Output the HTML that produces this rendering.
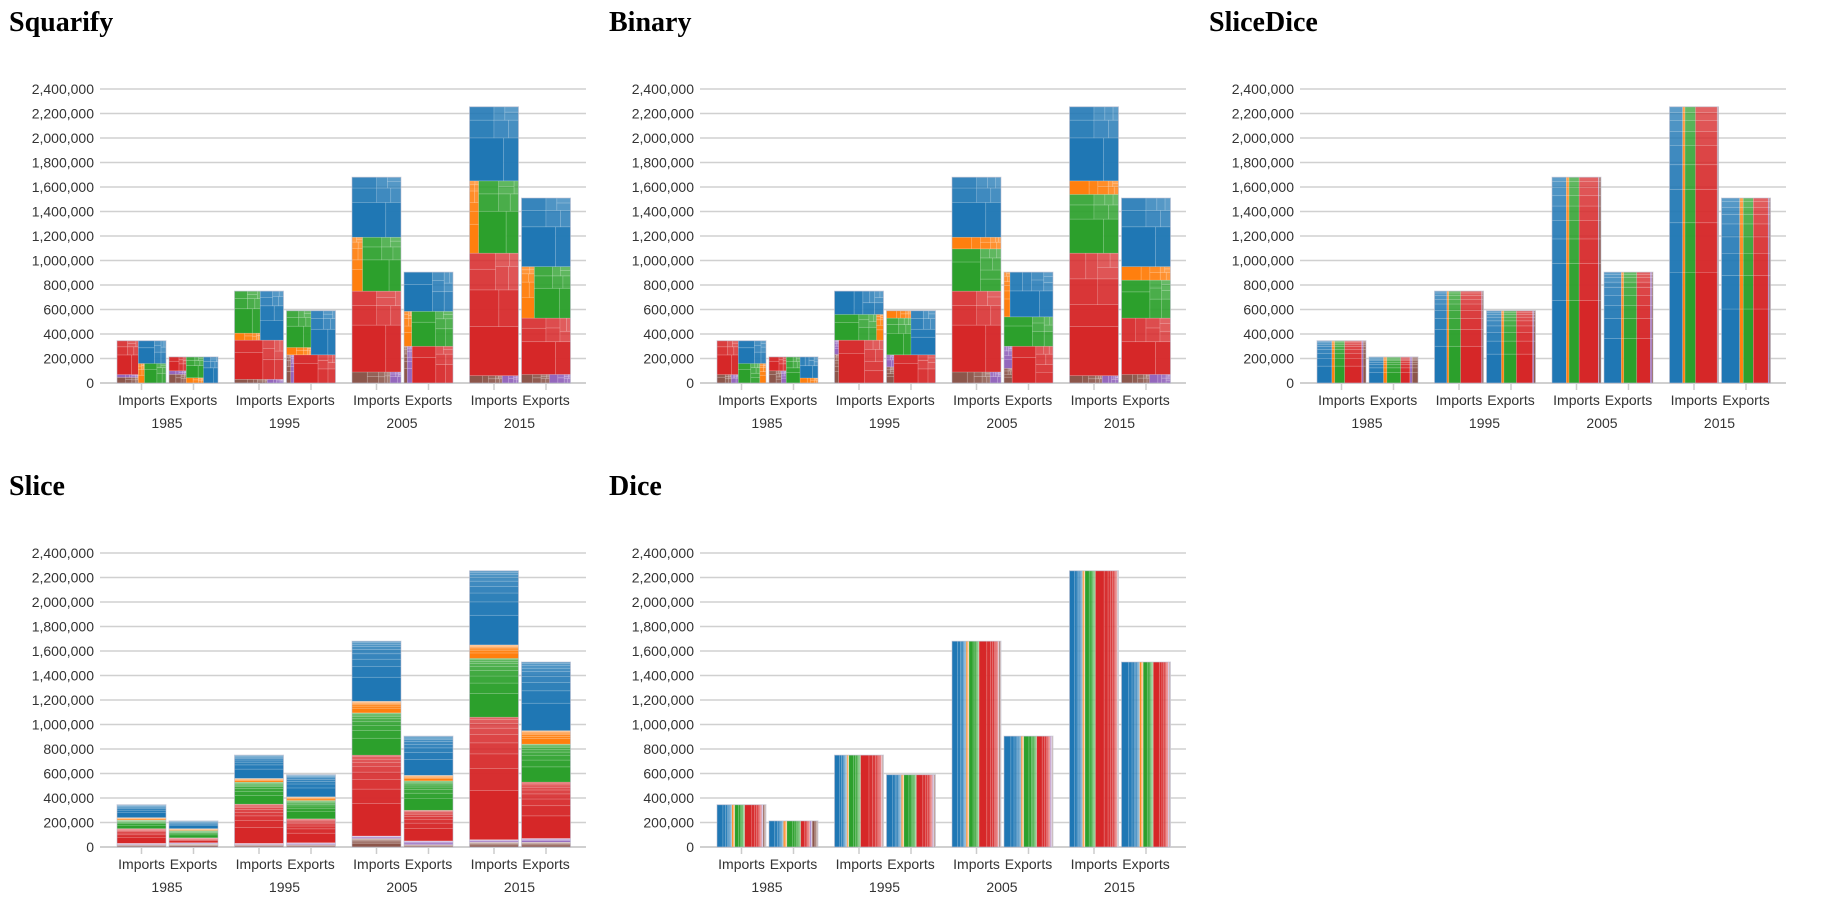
<!DOCTYPE html>
<html><head><meta charset="utf-8">
<style>
html,body{margin:0;padding:0;background:#fff;width:1824px;height:904px;overflow:hidden}
svg text{font-family:"Liberation Sans",sans-serif}
</style></head>
<body>
<svg id="root" width="1824" height="904" xmlns="http://www.w3.org/2000/svg"></svg>
<script>
const years = ["1985","1995","2005","2015"];
const flows = ["Imports","Exports"];
const categoryNames = ["brown","purple","red","green","orange","blue"];
const categoryColors = ["#8c564b","#9467bd","#d62728","#2ca02c","#ff7f0e","#1f77b4"];
// values in thousands, per group: [brown, purple, red, green, orange, blue]
const imports1985 = [20,10,120,70,20,105];
const exports1985 = [25,10,40,60,15,63];
const imports1995 = [20,10,320,180,30,190];
const exports1995 = [20,15,195,150,30,180];
const imports2005 = [70,20,660,345,95,490];
const exports2005 = [20,30,250,240,45,320];
const imports2015 = [40,20,1000,480,110,605];
const exports2015 = [40,30,460,310,110,560];
const groupValues = [[imports1985,exports1985],[imports1995,exports1995],[imports2005,exports2005],[imports2015,exports2015]];
const subShares = [0.4,0.18,0.12,0.09,0.07,0.05,0.04,0.03,0.02];
const yTicks = [0,200000,400000,600000,800000,1000000,1200000,1400000,1600000,1800000,2000000,2200000,2400000];
const panels = [["Squarify","squarify"],["Binary","binary"],["SliceDice","slicedice"],["Slice","slice"],["Dice","dice"]];

const NS="http://www.w3.org/2000/svg";
const root=document.getElementById('root');
function mk(tag,attrs,parent){const e=document.createElementNS(NS,tag);for(const k in attrs)e.setAttribute(k,attrs[k]);(parent||root).appendChild(e);return e;}

function sliceL(nodes,x0,y0,x1,y1){const t=nodes.reduce((a,n)=>a+n.value,0);let y=y0;nodes.forEach(n=>{const h=t?(y1-y0)*n.value/t:0;n.r=[x0,y,x1,y+h];y+=h;});}
function diceL(nodes,x0,y0,x1,y1){const t=nodes.reduce((a,n)=>a+n.value,0);let x=x0;nodes.forEach(n=>{const w=t?(x1-x0)*n.value/t:0;n.r=[x,y0,x+w,y1];x+=w;});}
function squarifyL(nodes,x0,y0,x1,y1){
  const ratio=(1+Math.sqrt(5))/2;let value=nodes.reduce((a,n)=>a+n.value,0);
  let i0=0,i1=0,n=nodes.length;
  while(i0<n){const dx=x1-x0,dy=y1-y0;let sumValue;
    do sumValue=nodes[i1++].value; while(!sumValue&&i1<n);
    let minV=sumValue,maxV=sumValue;const alpha=Math.max(dy/dx,dx/dy)/(value*ratio);
    let beta=sumValue*sumValue*alpha;let minRatio=Math.max(maxV/beta,beta/minV);
    for(;i1<n;++i1){const nv=nodes[i1].value;sumValue+=nv;if(nv<minV)minV=nv;if(nv>maxV)maxV=nv;beta=sumValue*sumValue*alpha;const nr=Math.max(maxV/beta,beta/minV);if(nr>minRatio){sumValue-=nv;break;}minRatio=nr;}
    const row=nodes.slice(i0,i1);
    if(dx<dy){const ny=value?y0+dy*sumValue/value:y1;diceL(row,x0,y0,x1,ny);y0=ny;}
    else{const nx=value?x0+dx*sumValue/value:x1;sliceL(row,x0,y0,nx,y1);x0=nx;}
    value-=sumValue;i0=i1;}
}
function binaryL(nodes,x0,y0,x1,y1){
  if(nodes.length===0)return;
  if(nodes.length===1){nodes[0].r=[x0,y0,x1,y1];return;}
  const tot=nodes.reduce((a,n)=>a+n.value,0);const half=tot/2;
  let s=0,k=1,best=Infinity;
  for(let i=1;i<nodes.length;i++){let c=0;for(let j=0;j<i;j++)c+=nodes[j].value;const d=Math.abs(c-half);if(d<best){best=d;k=i;s=c;}}
  const a=nodes.slice(0,k),b=nodes.slice(k);
  if((x1-x0)>(y1-y0)){const xm=x0+(x1-x0)*s/tot;binaryL(a,x0,y0,xm,y1);binaryL(b,xm,y0,x1,y1);}
  else{const ym=y0+(y1-y0)*s/tot;binaryL(a,x0,y0,x1,ym);binaryL(b,x0,ym,x1,y1);}
}
function layout(kind,nodes,x0,y0,x1,y1,depth){
  if(kind==='squarify')squarifyL(nodes,x0,y0,x1,y1);
  else if(kind==='binary')binaryL(nodes,x0,y0,x1,y1);
  else if(kind==='slice')sliceL(nodes,x0,y0,x1,y1);
  else if(kind==='dice')diceL(nodes,x0,y0,x1,y1);
  else if(kind==='slicedice'){ if(depth===0)diceL(nodes,x0,y0,x1,y1); else sliceL(nodes,x0,y0,x1,y1);}
}

function drawPanel(pi){
  const [title,kind]=panels[pi];
  const ox=(pi%3)*600, oy=Math.floor(pi/3)*464;
  const g=mk('g',{'transform':`translate(${ox},${oy})`});
  
  
  const t=mk('text',{x:9,y:31,'font-size':28,'font-weight':'bold',fill:'#000',style:'font-family:"Liberation Serif",serif'},g);
  t.textContent=title;
  
  
  const base=383, top=89, maxV=2400000, ax0=100, ax1=586;
  const yS=v=>base-(v/maxV)*(base-top);
  yTicks.forEach(v=>{
    const l=mk('line',{x1:ax0,x2:ax1,y1:yS(v),y2:yS(v),stroke:'#d0d0d0','stroke-width':v===0?2:1.5},g);
    
    
    const tx=mk('text',{x:94,y:yS(v)+5,'text-anchor':'end','font-size':14,fill:'#333'},g);
    tx.textContent=v.toLocaleString('en-US');
    
    
  });
  const step=117.5, barW=49;
  years.forEach((yr,yi)=>{
    flows.forEach((fl,fi)=>{
      const vals=groupValues[yi][fi];
      const bx=117+yi*step+fi*52;
      const total=vals.reduce((a,b)=>a+b,0)*1000;
      const h=base-yS(total);
      const bar=mk('g',{},g);
      
      
      const mkCat=ci=>({ci,value:vals[ci],children:subShares.map((s,si)=>({si,value:vals[ci]*s}))});
      let order;
      if(kind==='dice'||kind==='slicedice')order=[5,4,3,2,1,0];
      else if(kind==='squarify')order=[0,1,2,4,3,5];
      else order=[0,1,2,3,4,5];
      const cats=order.map(mkCat);
      layout(kind,cats,0,0,barW,h,0);
      cats.forEach(c=>{
        const [u0,v0,u1,v1]=c.r;
        layout(kind,c.children,u0,v0,u1,v1,1);
        c.children.forEach(ch=>{
          const [a0,b0,a1,b1]=ch.r;
          if(a1-a0<=0||b1-b0<=0)return;
          const r=mk('rect',{x:bx+a0,y:base-b1,width:a1-a0,height:b1-b0,fill:categoryColors[c.ci],'fill-opacity':Math.max(0.7,1-ch.si*0.035),stroke:'rgba(255,255,255,0.25)','stroke-width':0.6},bar);
          
          
        });
      });
      const o=mk('rect',{x:bx,y:base-h,width:barW,height:h,fill:'none',stroke:'rgba(180,180,200,0.5)','stroke-width':1},bar);
      
      
      const cx=bx+barW/2;
      const tk=mk('line',{x1:cx,x2:cx,y1:base,y2:base+7,stroke:'#ccc','stroke-width':1.5},g);
      
      
      const lb=mk('text',{x:cx,y:405,'text-anchor':'middle','font-size':14,fill:'#333'},g);
      lb.textContent=fl;
      
      
    });
    const yl=mk('text',{x:117+yi*step+50,y:428,'text-anchor':'middle','font-size':14,fill:'#333'},g);
    yl.textContent=yr;
    
    
  });
}
panels.forEach((p,i)=>drawPanel(i));
</script>
</body></html>
